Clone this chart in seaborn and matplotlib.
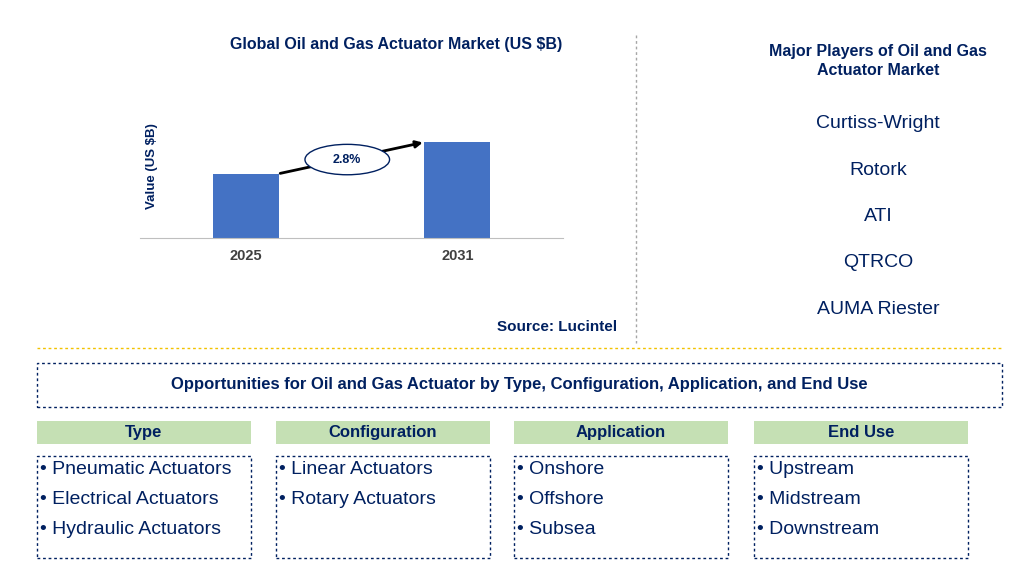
import matplotlib
matplotlib.use("Agg")
import matplotlib.pyplot as plt
import seaborn as sns
import pandas as pd
from matplotlib.patches import Rectangle, Ellipse

plt.rcParams["font.family"] = "Liberation Sans"

years = ["2025", "2031"]
values = [2.0, 3.0]
cagr = "2.8%"
players = ["Curtiss-Wright", "Rotork", "ATI", "QTRCO", "AUMA Riester"]
seg_titles = ["Type", "Configuration", "Application", "End Use"]
seg_items = [["Pneumatic Actuators", "Electrical Actuators", "Hydraulic Actuators"],
             ["Linear Actuators", "Rotary Actuators"],
             ["Onshore", "Offshore", "Subsea"],
             ["Upstream", "Midstream", "Downstream"]]

W, H = 1016, 572
fig = plt.figure(figsize=(W/100, H/100), dpi=100)
NAVY = "#002060"
BLUE = "#4472C4"

def fx(x): return x / W
def fy(y): return 1 - y / H

ax = fig.add_axes([fx(140), fy(238), fx(423), 138/H])
df = pd.DataFrame({"year": years, "value": values})
sns.barplot(data=df, x="year", y="value", color=BLUE, width=0.31, ax=ax, saturation=1)
ax.set_xlim(-0.5, 1.5); ax.set_ylim(0, 4.31)
ax.set_yticks([]); ax.set_xlabel("")
ax.set_ylabel("Value (US $B)", fontsize=9.5, fontweight="bold", color=NAVY)
ax.yaxis.set_label_coords(0.043, 0.52)
for s in ["top", "right", "left"]: ax.spines[s].set_visible(False)
ax.spines["bottom"].set_color("#BFBFBF")
ax.tick_params(axis="x", length=0, pad=8)
for t in ax.get_xticklabels(): t.set_fontweight("bold"); t.set_fontsize(10.5); t.set_color("#404040")
ax.annotate("", xy=(0.85, values[1]), xytext=(0.15, values[0]),
            arrowprops=dict(arrowstyle="-|>", color="black", lw=2))
ax.add_patch(Ellipse((0.48, 2.45), 0.4, 0.95, facecolor="white", edgecolor=NAVY, lw=1, zorder=5))
ax.text(0.48, 2.45, cagr, ha="center", va="center", fontsize=9, fontweight="bold", color=NAVY, zorder=6)

fig.text(fx(396), fy(45), "Global Oil and Gas Actuator Market (US $B)", ha="center", va="center",
         fontsize=11.5, fontweight="bold", color=NAVY)
fig.text(fx(617), fy(327), "Source: Lucintel", ha="right", va="center", fontsize=11, fontweight="bold", color=NAVY)
fig.add_artist(plt.Line2D([fx(636)]*2, [fy(35), fy(343)], color="#A6A6A6", lw=1, ls=(0, (2, 2))))
fig.text(fx(878), fy(61), "Major Players of Oil and Gas\nActuator Market", ha="center", va="center",
         fontsize=11.5, fontweight="bold", color=NAVY, linespacing=1.4)
for i, p in enumerate(players):
    fig.text(fx(878), fy(124 + i*46.3), p, ha="center", va="center", fontsize=14, color=NAVY)
fig.add_artist(plt.Line2D([fx(37), fx(1002)], [fy(348)]*2, color="#F2C200", lw=1, ls=(0, (2, 2))))

def box(x0, y0, x1, y1, **kw):
    fig.add_artist(Rectangle((fx(x0), fy(y1)), fx(x1-x0), (y1-y0)/H, transform=fig.transFigure, **kw))

box(37, 363, 1002, 407, facecolor="none", edgecolor=NAVY, lw=1, ls=(0, (2, 2)))
fig.text(fx(519), fy(385), "Opportunities for Oil and Gas Actuator by Type, Configuration, Application, and End Use",
         ha="center", va="center", fontsize=12, fontweight="bold", color=NAVY)
xs = [37, 276, 514, 754]
for i, (t, items) in enumerate(zip(seg_titles, seg_items)):
    x0 = xs[i]
    box(x0, 421, x0+214, 444, facecolor="#C5E0B4", edgecolor="none")
    fig.text(fx(x0+107), fy(432.5), t, ha="center", va="center", fontsize=12, fontweight="bold", color=NAVY)
    box(x0, 456, x0+214, 558, facecolor="none", edgecolor=NAVY, lw=1, ls=(0, (2, 2)))
    for j, it in enumerate(items):
        fig.text(fx(x0+3), fy(469 + j*30), "\u2022 " + it, ha="left", va="center", fontsize=14, color=NAVY)

fig.savefig("out.png", dpi=100)
